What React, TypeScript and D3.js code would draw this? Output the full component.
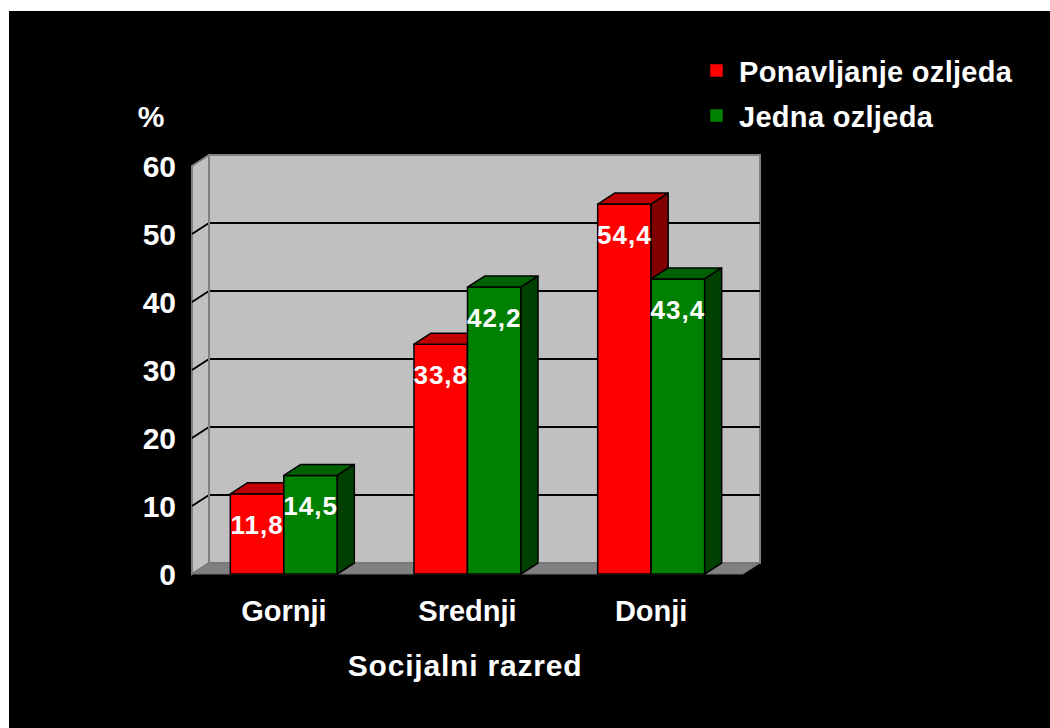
import React from "react";
import * as d3 from "d3";

const categories = ["Gornji", "Srednji", "Donji"];
const seriesNames = ["Ponavljanje ozljeda", "Jedna ozljeda"];
const ponavljanje = [11.8, 33.8, 54.4];
const jedna = [14.5, 42.2, 43.4];
const yTicks = [0, 10, 20, 30, 40, 50, 60];
const yAxisLabel = "%";
const xAxisTitle = "Socijalni razred";

const W = 1050;
const H = 728;
const FONT = "'Liberation Sans', Arial, Helvetica, sans-serif";

const seriesColors = [
  { front: "#FF0000", top: "#C00000", side: "#800000" },
  { front: "#008000", top: "#006000", side: "#004000" },
];

export default function App() {
  const floorY = 574;
  const left = 192;
  const right = 743;
  const dx = 17;
  const dy = -11;

  const y = d3.scaleLinear().domain([0, 60]).range([floorY, 166]);
  const x0 = d3
    .scaleBand<string>()
    .domain(categories)
    .range([left, right])
    .paddingInner(0.4175)
    .paddingOuter(0.20875);
  const x1 = d3
    .scaleBand<string>()
    .domain(seriesNames)
    .range([0, x0.bandwidth()]);

  const values = [ponavljanje, jedna];
  const top = y(60);

  const bars: React.ReactNode[] = [];
  const labels: React.ReactNode[] = [];
  categories.forEach((c, ci) => {
    seriesNames.forEach((s, si) => {
      const v = values[si][ci];
      const bx = (x0(c) as number) + (x1(s) as number);
      const bw = x1.bandwidth();
      const by = y(v);
      const col = seriesColors[si];
      const frontPts = `${bx},${by} ${bx + bw},${by} ${bx + bw},${floorY} ${bx},${floorY}`;
      const topPts = `${bx},${by} ${bx + dx},${by + dy} ${bx + bw + dx},${by + dy} ${bx + bw},${by}`;
      const sidePts = `${bx + bw},${by} ${bx + bw + dx},${by + dy} ${bx + bw + dx},${floorY + dy} ${bx + bw},${floorY}`;
      bars.push(
        <g key={`${c}-${s}`} stroke="#000" strokeWidth={1.5} strokeLinejoin="round">
          <polygon points={frontPts} fill={col.front} />
          <polygon points={topPts} fill={col.top} />
          <polygon points={sidePts} fill={col.side} />
        </g>
      );
      labels.push(
        <text
          key={`l-${c}-${s}`}
          x={bx + bw / 2}
          y={by + 40}
          textAnchor="middle"
          fill="#fff"
          fontSize={26}
          fontWeight="bold"
          letterSpacing={1}
          fontFamily={FONT}
        >
          {String(v).replace(".", ",")}
        </text>
      );
    });
  });

  return (
    <svg
      width={W}
      height={H}
      style={{ position: "absolute", left: 0, top: 0 }}
    >
      <rect x={0} y={0} width={W} height={H} fill="#fff" />
      <rect x={9} y={11} width={W - 9} height={H - 11} fill="#000" />

      {/* side wall */}
      <polygon
        points={`${left},${top} ${left + dx},${top + dy} ${left + dx},${floorY + dy} ${left},${floorY}`}
        fill="#C0C0C0"
        stroke="#808080"
        strokeWidth={2}
      />
      {/* back wall */}
      <rect
        x={left + dx}
        y={top + dy}
        width={right - left}
        height={floorY - top}
        fill="#C0C0C0"
        stroke="#808080"
        strokeWidth={2}
      />
      {/* floor */}
      <polygon
        points={`${left},${floorY} ${left + dx},${floorY + dy} ${right + dx},${floorY + dy} ${right},${floorY}`}
        fill="#808080"
        stroke="#707070"
        strokeWidth={1}
      />
      {/* gridlines */}
      {yTicks
        .filter((t) => t > 0 && t < 60)
        .map((t) => (
          <g key={`g${t}`} stroke="#000" strokeWidth={2}>
            <line x1={left + dx} x2={right + dx} y1={y(t) + dy} y2={y(t) + dy} />
            <line x1={left} x2={left + dx} y1={y(t)} y2={y(t) + dy} />
          </g>
        ))}
      <line x1={left + dx} x2={left + dx} y1={top + dy} y2={floorY + dy} stroke="#808080" strokeWidth={2} />

      {bars}
      {labels}

      {/* y axis labels */}
      {yTicks.map((t) => (
        <text
          key={`t${t}`}
          x={176}
          y={y(t) + 11}
          textAnchor="end"
          fill="#fff"
          fontSize={30}
          fontWeight="bold"
          fontFamily={FONT}
        >
          {t}
        </text>
      ))}
      <text x={151} y={127} textAnchor="middle" fill="#fff" fontSize={30} fontWeight="bold" fontFamily={FONT}>
        {yAxisLabel}
      </text>

      {/* x axis labels */}
      {categories.map((c) => (
        <text
          key={`x${c}`}
          x={(x0(c) as number) + x0.bandwidth() / 2}
          y={621}
          textAnchor="middle"
          fill="#fff"
          fontSize={29}
          fontWeight="bold"
          fontFamily={FONT}
        >
          {c}
        </text>
      ))}
      <text x={465} y={676} textAnchor="middle" fill="#fff" fontSize={30} fontWeight="bold" letterSpacing={0.8} fontFamily={FONT}>
        {xAxisTitle}
      </text>

      {/* legend */}
      {seriesNames.map((s, i) => (
        <g key={`leg${s}`}>
          <rect x={710} y={64 + i * 45} width={13} height={13} fill={seriesColors[i].front} stroke="#000" strokeWidth={0.5} />
          <text x={739} y={82 + i * 45} fill="#fff" fontSize={29} fontWeight="bold" letterSpacing={0.3} fontFamily={FONT}>
            {s}
          </text>
        </g>
      ))}
    </svg>
  );
}
